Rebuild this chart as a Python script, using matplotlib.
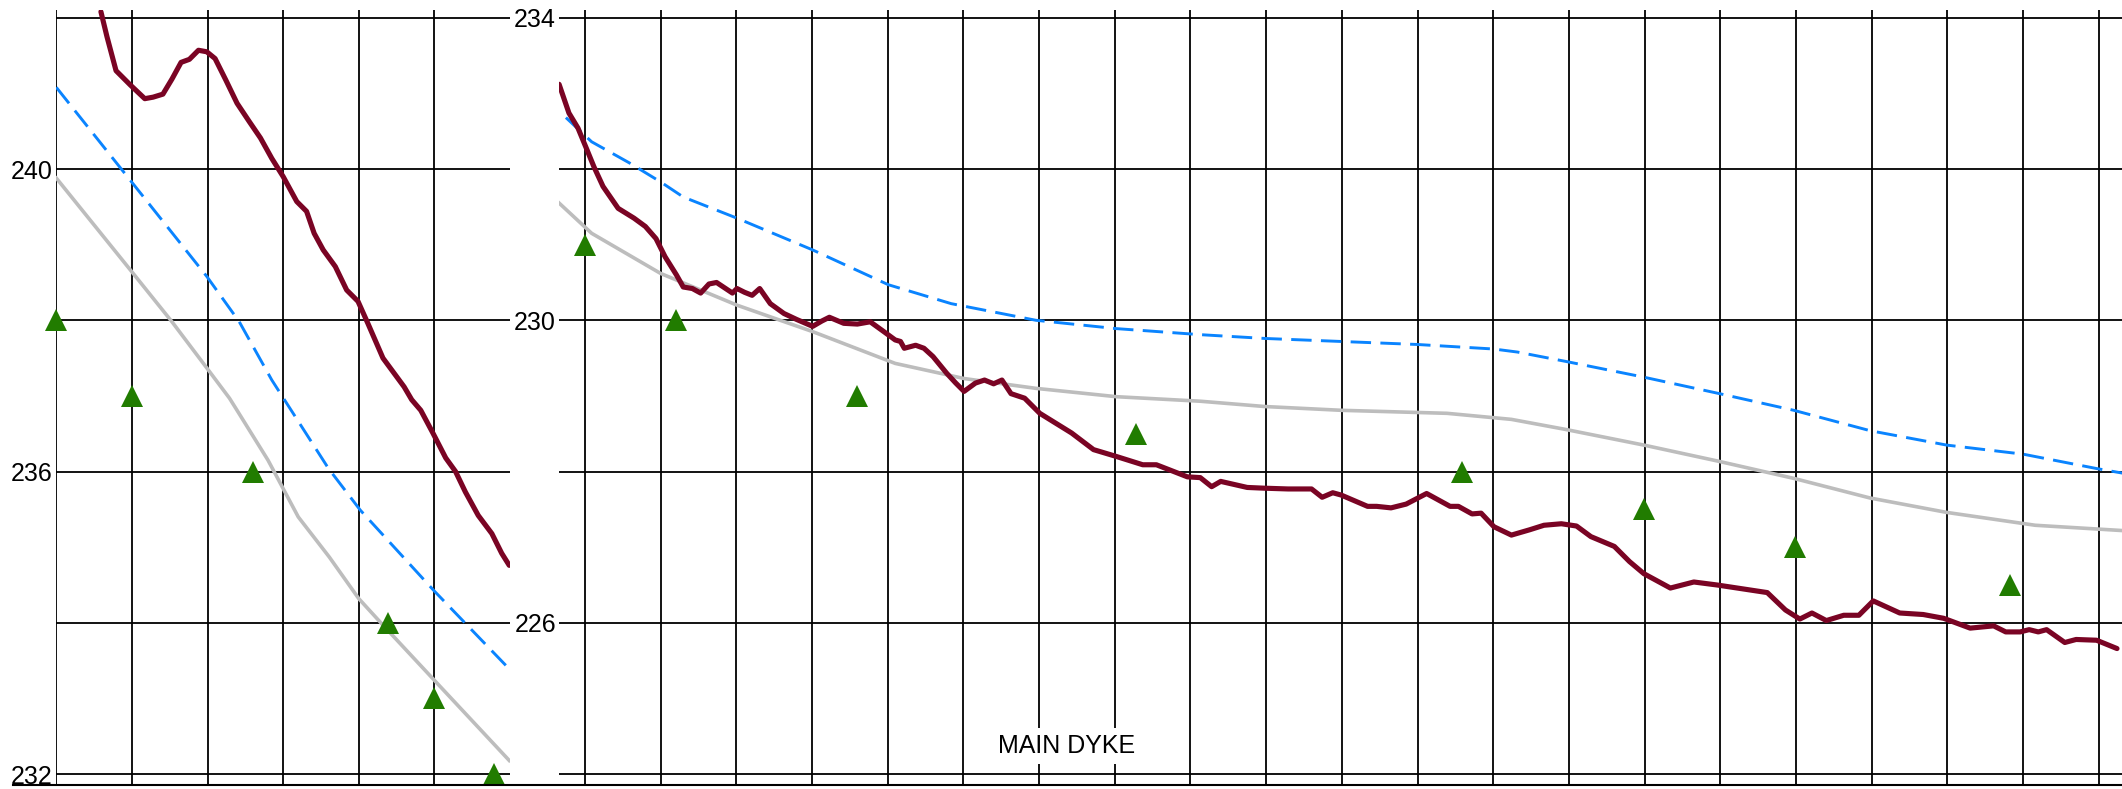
import matplotlib
matplotlib.use("Agg")
import matplotlib.pyplot as plt
from matplotlib.lines import Line2D

plt.rcParams["font.family"] = ["Liberation Sans", "DejaVu Sans"]

# Upstream reach (left panel): chainage in m, levels in m
left_water_x = [59, 67, 79, 98, 117, 128, 141, 153, 165, 176, 188, 199, 210, 224,
                239, 255, 270, 285, 300, 318, 331, 341, 353, 369, 384, 399, 412, 432,
                460, 470, 482, 498, 515, 528, 541, 558, 576, 589, 594, 599]
left_water_y = [242.08, 241.75, 241.30, 241.11, 240.93, 240.95, 240.99, 241.19, 241.41,
                241.45, 241.57, 241.55, 241.46, 241.18, 240.87, 240.63, 240.41, 240.14,
                239.90, 239.57, 239.44, 239.15, 238.93, 238.71, 238.40, 238.25, 237.96,
                237.50, 237.12, 236.95, 236.81, 236.51, 236.18, 236.00, 235.73, 235.42,
                235.18, 234.92, 234.84, 234.76]
left_bed_x = [0, 100, 153, 199, 229, 239, 280, 320, 361, 400, 432, 500, 599]
left_bed_y = [239.88, 238.64, 237.98, 237.37, 236.97, 236.81, 236.15, 235.40, 234.87,
              234.32, 233.97, 233.24, 232.18]
left_design_x = [0, 82, 199, 242, 285, 360, 402, 499, 600]
left_design_y = [241.08, 240.05, 238.58, 237.98, 237.21, 236.04, 235.49, 234.43, 233.38]
left_obs_x = [0, 100, 260, 439, 500, 579]
left_obs_y = [238, 237, 236, 234, 233, 232]

# Downstream reach (right panel)
right_water_x = [-34, -21, -9, 3, 12, 24, 44, 65, 80, 94, 106, 121, 130, 142, 153, 164,
                 174, 186, 195, 201, 211, 221, 231, 245, 263, 280, 301, 313, 323, 342,
                 360, 377, 395, 410, 417, 422, 437, 448, 460, 478, 490, 501, 516, 528,
                 540, 551, 563, 581, 601, 643, 672, 702, 737, 755, 773, 796, 813, 828,
                 840, 875, 898, 929, 960, 974, 988, 999, 1034, 1046, 1065, 1085, 1112,
                 1143, 1154, 1172, 1184, 1201, 1224, 1248, 1267, 1290, 1310, 1329, 1360,
                 1380, 1399, 1434, 1465, 1496, 1562, 1586, 1605, 1621, 1640, 1663, 1683,
                 1702, 1737, 1768, 1795, 1830, 1861, 1877, 1896, 1908, 1920, 1931, 1955,
                 1970, 1997, 2024]
right_water_y = [233.12, 232.74, 232.54, 232.25, 232.03, 231.77, 231.48, 231.35, 231.24,
                 231.08, 230.84, 230.60, 230.44, 230.42, 230.36, 230.48, 230.50, 230.42,
                 230.36, 230.42, 230.37, 230.33, 230.42, 230.22, 230.09, 230.01, 229.92,
                 229.99, 230.04, 229.96, 229.95, 229.98, 229.85, 229.74, 229.72, 229.63,
                 229.67, 229.63, 229.52, 229.30, 229.17, 229.06, 229.17, 229.21, 229.16,
                 229.21, 229.03, 228.97, 228.77, 228.51, 228.29, 228.20, 228.09, 228.09,
                 228.02, 227.93, 227.92, 227.80, 227.87, 227.79, 227.78, 227.77, 227.77,
                 227.66, 227.72, 227.69, 227.54, 227.54, 227.52, 227.57, 227.71, 227.54,
                 227.54, 227.44, 227.45, 227.27, 227.16, 227.23, 227.29, 227.31, 227.28,
                 227.14, 227.01, 226.81, 226.65, 226.46, 226.54, 226.50, 226.40, 226.17,
                 226.05, 226.13, 226.03, 226.10, 226.10, 226.29, 226.13, 226.11, 226.06,
                 225.93, 225.96, 225.88, 225.88, 225.91, 225.88, 225.91, 225.74, 225.78,
                 225.77, 225.66]
right_bed_x = [-34, 9, 100, 201, 301, 410, 501, 596, 702, 813, 898, 999, 1139, 1224,
               1294, 1399, 1496, 1597, 1698, 1799, 1916, 2031]
right_bed_y = [231.55, 231.15, 230.62, 230.20, 229.85, 229.43, 229.23, 229.10, 228.99,
               228.93, 228.86, 228.81, 228.77, 228.69, 228.56, 228.35, 228.14, 227.91,
               227.65, 227.46, 227.29, 227.22]
right_design_x = [-25, 9, 59, 100, 130, 201, 301, 401, 484, 596, 702, 813, 898, 999,
                  1100, 1201, 1232, 1299, 1398, 1499, 1597, 1698, 1799, 1900, 1997, 2031]
right_design_y = [232.68, 232.36, 232.08, 231.83, 231.63, 231.35, 230.93, 230.47, 230.22,
                  230.00, 229.89, 229.81, 229.76, 229.72, 229.68, 229.62, 229.58, 229.45,
                  229.25, 229.03, 228.81, 228.54, 228.35, 228.23, 228.04, 227.98]
right_obs_x = [0, 120, 360, 728, 1159, 1399, 1599, 1883]
right_obs_y = [231, 230, 229, 228.5, 228, 227.5, 227, 226.5]

left_labels = [232, 236, 240]
right_labels = [226, 230, 234]

RED = "#7a0424"
BLUE = "#0a84ff"
GRAY = "#bdbdbd"
GREEN = "#217c00"

W, H = 2122, 789
fig = plt.figure(figsize=(W / 100, H / 100), dpi=100)

bottom_px, top_px = 785, 9.5
ax_l = fig.add_axes([56.3 / W, (H - bottom_px) / H, (510 - 56.3) / W, (bottom_px - top_px) / H])
ax_r = fig.add_axes([559.4 / W, (H - bottom_px) / H, (W - 559.4) / W, (bottom_px - top_px) / H])


def style_panel(ax, xlim, ylim, xticks, yticks, labelled):
  ax.set_xlim(*xlim)
  ax.set_ylim(*ylim)
  ax.set_xticks(xticks)
  ax.set_yticks(yticks)
  ax.set_yticklabels([str(v) if v in labelled else "" for v in yticks])
  ax.tick_params(axis="x", length=0, labelbottom=False)
  ax.tick_params(axis="y", length=0, pad=2.4, labelsize=18)
  ax.grid(True, color="black", linewidth=1.3)
  ax.set_axisbelow(True)
  for s in ax.spines.values():
    s.set_visible(False)


def draw_profile(ax, wx, wy, bx, by, dx, dy, ox, oy):
  ax.plot(dx, dy, color=BLUE, linewidth=2.1, dashes=(7, 3.2), zorder=3)
  ax.plot(bx, by, color=GRAY, linewidth=2.6, zorder=4)
  ax.plot(wx, wy, color=RED, linewidth=3.7, solid_joinstyle="round",
          solid_capstyle="round", zorder=5)
  ax.plot(ox, oy, linestyle="none", marker="^", markersize=16,
          markerfacecolor=GREEN, markeredgewidth=0, zorder=6, clip_on=False)


style_panel(ax_l, (0, 600), (231.856, 242.109), range(0, 501, 100),
            range(232, 243, 2), left_labels)
style_panel(ax_r, (-33.6, 2030.6), (223.856, 234.109), range(0, 2001, 100),
            range(224, 235, 2), right_labels)

draw_profile(ax_l, left_water_x, left_water_y, left_bed_x, left_bed_y,
             left_design_x, left_design_y, left_obs_x, left_obs_y)
draw_profile(ax_r, right_water_x, right_water_y, right_bed_x, right_bed_y,
             right_design_x, right_design_y, right_obs_x, right_obs_y)

ax_r.text(637, 224.37, "MAIN DYKE", fontsize=18, ha="center", va="center", zorder=7,
          bbox=dict(boxstyle="square,pad=0.25", facecolor="white", edgecolor="none"))

# base line running under both panels
fig.add_artist(Line2D([13 / W, 1], [(H - 785) / H, (H - 785) / H],
                      transform=fig.transFigure, color="black", linewidth=1.5))

fig.savefig("out.png", dpi=100)
